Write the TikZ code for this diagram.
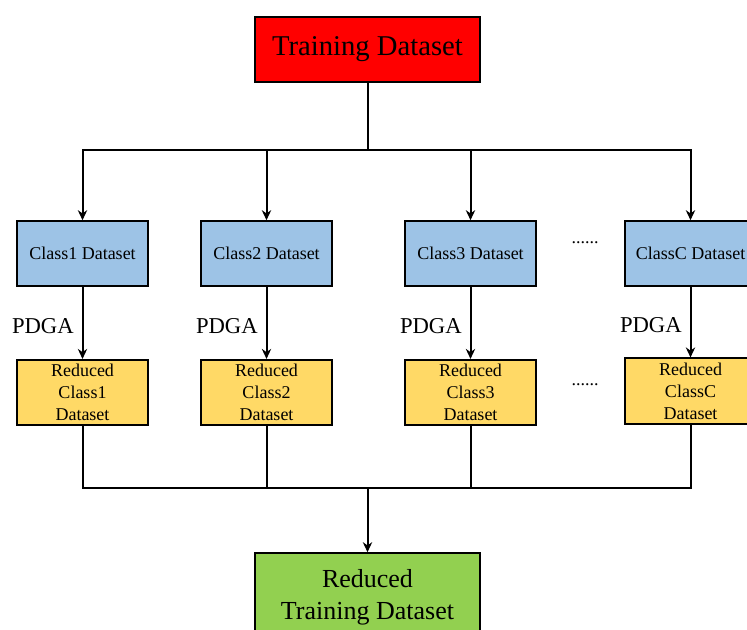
\documentclass[tikz,border=0pt]{standalone}
\usepackage{fontspec}
\setmainfont{Liberation Serif}
\usetikzlibrary{positioning,arrows.meta}

\definecolor{boxred}{HTML}{FF0000}
\definecolor{boxblue}{HTML}{9DC3E6}
\definecolor{boxyellow}{HTML}{FFD966}
\definecolor{boxgreen}{HTML}{92D050}

\begin{document}
\begin{tikzpicture}[
    x=0.75pt,
    y=-0.75pt,
    ->,
    >={Stealth[length=7.5pt,width=7pt]},
    line width=1.5pt
]

\tikzstyle{bigbox}=[
    draw,
    line width=1.2pt,
    minimum width=168.75pt,
    minimum height=48.75pt,
    align=center,
    font=\fontsize{21.5}{24}\selectfont
]

\tikzstyle{classbox}=[
    draw,
    line width=1.2pt,
    fill=boxblue,
    minimum width=98.25pt,
    minimum height=48.75pt,
    align=center,
    font=\fontsize{13.5}{16.5}\selectfont
]

\tikzstyle{redbox}=[
    classbox,
    fill=boxyellow
]

\tikzstyle{lbl}=[font=\fontsize{17}{20}\selectfont, yshift=-2.5pt]
\tikzstyle{dots}=[anchor=base, font=\fontsize{13.5}{16.5}\selectfont]

\clip (0,0) rectangle (747,630);

\node[bigbox, fill=boxred] (train) at (367.5,49.5) {Training Dataset};

\node[classbox] (c1) at (82.5,253.5) {Class1 Dataset};
\node[classbox] (c2) at (266.5,253.5) {Class2 Dataset};
\node[classbox] (c3) at (470.5,253.5) {Class3 Dataset};
\node[classbox] (cc) at (690.5,253.5) {ClassC Dataset};

\node[redbox] (r1) at (82.5,392.5) {Reduced\\Class1\\Dataset};
\node[redbox] (r2) at (266.5,392.5) {Reduced\\Class2\\Dataset};
\node[redbox] (r3) at (470.5,392.5) {Reduced\\Class3\\Dataset};
\node[redbox] (rc) at (690.5,391) {Reduced\\ClassC\\Dataset};

\node[dots] (d1) at (585,244) {......};
\node[dots] (d2) at (585,386) {......};

\node[bigbox, fill=boxgreen, minimum height=66pt,
      font=\fontsize{19.5}{24}\selectfont] (reduced) at (367.5,597) {Reduced\\Training Dataset};

\coordinate (split) at (367.5,150);
\coordinate (merge) at (367.5,488.5);

\draw[-] (train) -- (split);
\draw (split) -| (c1.north);
\draw (split) -| (c2.north);
\draw (split) -| (c3.north);
\draw (split) -| (cc.north);

\draw (c1) -- node[lbl, left=2.5pt] (p1) {PDGA} (r1);
\draw (c2) -- node[lbl, left=2.5pt] (p2) {PDGA} (r2);
\draw (c3) -- node[lbl, left=2.5pt] (p3) {PDGA} (r3);
\draw (cc) -- node[lbl, left=2.5pt] (pc) {PDGA} (rc);

\draw[-] (r1.south) |- (merge);
\draw[-] (r2.south) |- (merge);
\draw[-] (r3.south) |- (merge);
\draw[-] (rc.south) |- (merge);
\draw (merge) -- (reduced.north);

\end{tikzpicture}
\end{document}
